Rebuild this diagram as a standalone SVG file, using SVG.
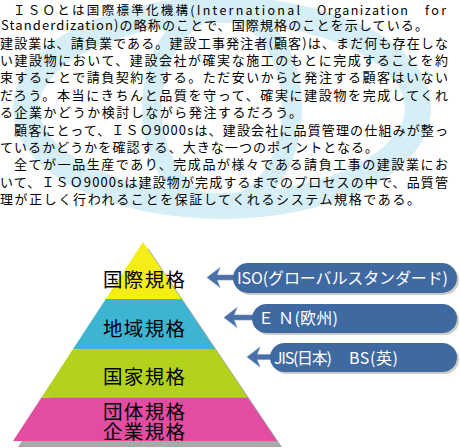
<svg xmlns="http://www.w3.org/2000/svg" width="460" height="448" viewBox="0 0 460 448">
<style>
.body{font-family:"Noto Sans CJK JP","Noto Sans",sans-serif;font-size:13px;fill:#000}
.first{font-size:12.5px}
.lvl{font-family:"Noto Sans CJK JP",sans-serif;font-size:19.5px;fill:#000;text-anchor:middle}
.pilltxt{font-family:"Noto Sans CJK JP",sans-serif;font-size:16px;fill:#fff}
.pill{fill:#3f69a1}
.pillsh{fill:#c9cdc6}
.arrow{fill:#4a71a7;stroke:#6f90bd;stroke-width:0.6}
.wm{fill:none;stroke:#d6eef6}
</style>
<rect width="460" height="448" fill="#fff"/>
<g id="watermark">
<ellipse class="wm" cx="222" cy="108" rx="196" ry="98" stroke-width="26"/>
<ellipse class="wm" cx="222" cy="108" rx="70" ry="98" stroke-width="20"/>
</g>
<g id="text">
<text class="body first" x="13" y="14.6" textLength="287">ＩＳＯとは国際標準化機構(International</text>
<text class="body first" x="317" y="14.6" textLength="91">Organization</text>
<text class="body first" x="425" y="14.6" textLength="21">for</text>
<text class="body" x="1" y="30.4" textLength="427">Standerdization)の略称のことで、国際規格のことを示している。</text>
<text class="body" x="0" y="47.6" textLength="448">建設業は、請負業である。建設工事発注者(顧客)は、まだ何も存在しな</text>
<text class="body" x="0" y="65" textLength="448">い建設物において、建設会社が確実な施工のもとに完成することを約</text>
<text class="body" x="0" y="82.4" textLength="448">束することで請負契約をする。ただ安いからと発注する顧客はいない</text>
<text class="body" x="0" y="99.8" textLength="448">だろう。本当にきちんと品質を守って、確実に建設物を完成してくれ</text>
<text class="body" x="0" y="117.2" textLength="302">る企業かどうか検討しながら発注するだろう。</text>
<text class="body" x="14" y="134.6" textLength="434">顧客にとって、ＩＳＯ9000sは、建設会社に品質管理の仕組みが整っ</text>
<text class="body" x="0" y="152" textLength="378">ているかどうかを確認する、大きな一つのポイントとなる。</text>
<text class="body" x="14" y="169.4" textLength="434">全てが一品生産であり、完成品が様々である請負工事の建設業にお</text>
<text class="body" x="0" y="186.8" textLength="448">いて、ＩＳＯ9000sは建設物が完成するまでのプロセスの中で、品質管</text>
<text class="body" x="0" y="204.2" textLength="420">理が正しく行われることを保証してくれるシステム規格である。</text>
</g>
<g id="pyramid-shadow">
<polygon points="148,248 282,447 18,447" fill="#a9a9a9"/>
</g>
<g id="level-international">
<polygon points="143,242 181.4,299 105.8,299" fill="#f4ee16"/>
<text class="lvl" x="144" y="287" textLength="82">国際規格</text>
</g>
<g id="level-regional">
<polygon points="105.8,299 181.4,299 215.2,349.3 72.9,349.3" fill="#3db5d2"/>
<text class="lvl" x="144" y="336" textLength="82">地域規格</text>
</g>
<g id="level-national">
<polygon points="72.9,349.3 215.2,349.3 247.8,397.7 41.3,397.7" fill="#b2d21c"/>
<text class="lvl" x="144" y="384" textLength="82">国家規格</text>
</g>
<g id="level-group">
<polygon points="41.3,397.7 247.8,397.7 277,441 13,441" fill="#e34da1"/>
<text class="lvl" x="144" y="418.5" textLength="82">団体規格</text>
<text class="lvl" x="144" y="439" textLength="82">企業規格</text>
</g>
<g id="connectors">
<path class="arrow" d="M207,277.5 L220,267.5 L217,275 L240,275 L240,280 L217,280 L220,287.5 Z"/>
<path class="arrow" d="M224,317.5 L237,307.5 L234,315 L258,315 L258,320 L234,320 L237,327.5 Z"/>
<path class="arrow" d="M247,357 L260,347 L257,354.5 L276,354.5 L276,359.5 L257,359.5 L260,367 Z"/>
</g>
<g id="pill-iso">
<rect class="pillsh" x="235" y="265" width="224" height="30" rx="15"/>
<rect class="pill" x="233" y="263" width="224" height="30" rx="15"/>
<text class="pilltxt" x="237" y="284" textLength="211">ISO(グローバルスタンダード)</text>
</g>
<g id="pill-en">
<rect class="pillsh" x="254" y="306" width="205" height="29" rx="14.5"/>
<rect class="pill" x="252" y="304" width="205" height="29" rx="14.5"/>
<text class="pilltxt" x="258" y="324" textLength="80">Ｅ Ｎ(欧州)</text>
</g>
<g id="pill-jis">
<rect class="pillsh" x="272" y="345" width="187" height="29" rx="14.5"/>
<rect class="pill" x="270" y="343" width="187" height="29" rx="14.5"/>
<text class="pilltxt" x="274" y="363.5" textLength="58">JIS(日本)</text>
<text class="pilltxt" x="349" y="363.5" textLength="49">BS(英)</text>
</g>
</svg>
